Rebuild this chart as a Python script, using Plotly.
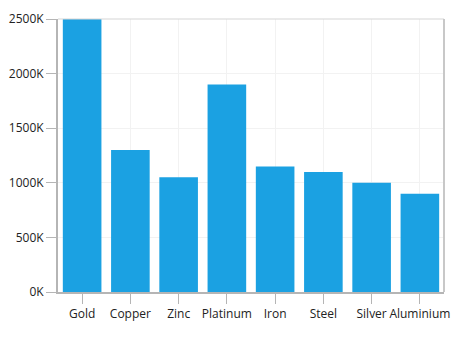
import plotly.graph_objects as go

categories = ["Gold", "Copper", "Zinc", "Platinum", "Iron", "Steel", "Silver", "Aluminium"]
values = [2500000, 1300000, 1050000, 1900000, 1150000, 1100000, 1000000, 900000]
y_tick_vals = [0, 500000, 1000000, 1500000, 2000000, 2500000]
y_tick_text = ["0K", "500K", "1000K", "1500K", "2000K", "2500K"]

fig = go.Figure(go.Bar(x=categories, y=values, marker_color="#1BA1E2", marker_line_width=0))

fig.update_layout(
    width=463, height=341,
    margin=dict(l=58, r=19, t=19, b=49, autoexpand=False),
    paper_bgcolor="white", plot_bgcolor="white",
    bargap=0.2, showlegend=False,
    font=dict(family="Open Sans, Noto Sans, sans-serif", size=12, color="#333333"),
)
fig.update_xaxes(
    automargin=False,
    showgrid=True, gridcolor="#F2F2F2", gridwidth=1,
    showline=True, linecolor="#B5B5B5", linewidth=2,
    ticks="outside", ticklen=10, tickcolor="#B5B5B5", tickwidth=1,
    tickfont=dict(size=12, color="#222222"),
)
fig.update_yaxes(
    automargin=False,
    range=[0, 2500000], tickvals=y_tick_vals, ticktext=y_tick_text,
    showgrid=True, gridcolor="#F2F2F2", gridwidth=1, zeroline=False,
    showline=True, linecolor="#B5B5B5", linewidth=2,
    ticks="outside", ticklen=10, tickcolor="#B5B5B5", tickwidth=1,
    tickfont=dict(size=12, color="#222222"),
)
fig.add_shape(type="line", xref="paper", yref="paper", x0=0, x1=1, y0=1, y1=1,
              line=dict(color="#D5D5D5", width=1), layer="above")
fig.add_shape(type="line", xref="paper", yref="paper", x0=1, x1=1, y0=0, y1=1,
              line=dict(color="#C8C8C8", width=2), layer="above")

fig.write_html("out.html")
